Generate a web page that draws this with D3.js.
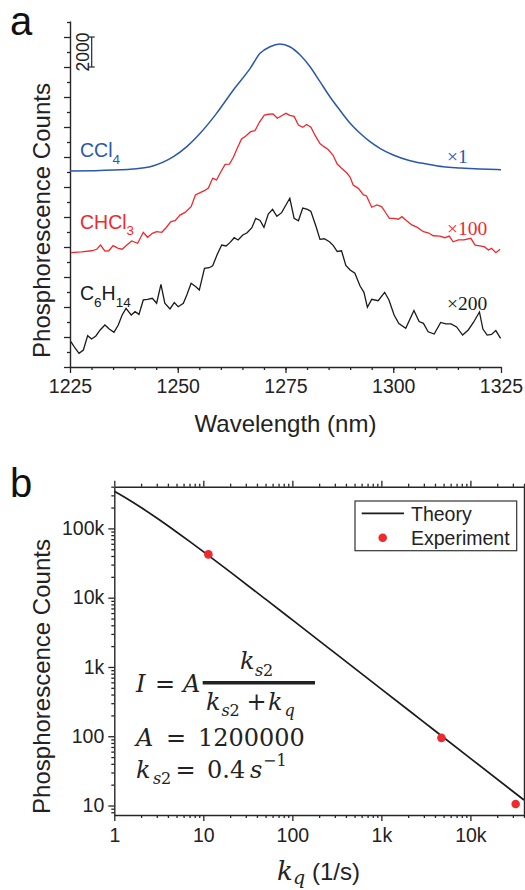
<!DOCTYPE html>
<html>
<head>
<meta charset="utf-8">
<script src="https://cdn.jsdelivr.net/npm/d3@7"></script>
<style>
  body { margin: 0; background: #fff; }
</style>
</head>
<body>
<svg id="chart" width="525" height="890"></svg>
<script>
// ---- panel a : spectra (counts already include the x1 / x100 / x200 scaling + offset)
const ccl4Wl = [1225.0, 1232.0, 1239.6, 1243.6, 1249.0, 1252.1, 1255.2, 1259.0, 1262.9, 1266.8,
  1269.1, 1271.4, 1273.7, 1276.0, 1278.4, 1280.7, 1283.0, 1285.3, 1287.6, 1290.0,
  1292.3, 1294.6, 1296.9, 1300.0, 1303.9, 1307.8, 1311.6, 1315.5, 1320.1, 1325.0]
const ccl4Counts = [13070, 13100, 13200, 13350, 14020, 14690, 15580, 16910, 18470, 19910,
  20910, 21350, 21530, 21350, 20800, 20020, 19020, 18020, 17130, 16250,
  15580, 15020, 14580, 14130, 13750, 13530, 13350, 13270, 13200, 13150]

const chcl3Wl = [1225.2, 1227.7, 1230.0, 1231.2, 1232.1, 1233.1, 1234.0, 1235.0, 1236.2, 1237.1,
  1238.2, 1239.3, 1240.7, 1242.0, 1243.0, 1244.1, 1245.1, 1246.3, 1247.2, 1248.4,
  1249.4, 1250.5, 1251.7, 1253.1, 1254.1, 1255.2, 1256.3, 1257.1, 1258.1, 1259.0,
  1260.0, 1261.0, 1262.0, 1262.9, 1263.8, 1264.8, 1265.8, 1266.9, 1267.9, 1269.0,
  1270.1, 1271.1, 1272.1, 1273.1, 1274.1, 1275.1, 1276.0, 1277.0, 1278.0, 1279.0,
  1279.9, 1280.9, 1281.8, 1283.0, 1283.9, 1284.9, 1286.0, 1287.0, 1288.0, 1289.2,
  1290.0, 1290.7, 1291.9, 1293.1, 1293.8, 1295.0, 1296.2, 1297.3, 1298.1, 1299.1,
  1300.2, 1301.2, 1302.0, 1303.1, 1304.3, 1305.6, 1307.0, 1308.1, 1309.3, 1310.8,
  1312.0, 1313.0, 1313.9, 1315.1, 1316.4, 1318.0, 1319.0, 1320.1, 1321.1, 1322.1,
  1322.8, 1323.8, 1324.8]
const chcl3Counts = [7620, 7670, 7750, 7850, 8130, 7730, 7750, 8090, 7910, 7850,
  8130, 8400, 8250, 8980, 8650, 8910, 9020, 8980, 9250, 9690,
  9750, 10130, 10310, 10690, 11470, 11620, 11770, 11930, 12580, 12470,
  13020, 13510, 13530, 13980, 14580, 15200, 15400, 15690, 15750, 16350,
  16800, 16850, 16870, 16580, 16750, 16910, 16780, 16710, 16130, 15980,
  16170, 15980, 15470, 14900, 14690, 14500, 14130, 13530, 13250, 12950,
  12650, 12130, 11910, 11470, 11400, 10650, 10800, 10690, 10350, 9910,
  9910, 9850, 10020, 9750, 9470, 9310, 9020, 8950, 8750, 8730,
  8620, 8730, 8350, 8470, 8470, 8580, 8130, 8070, 8020, 7800,
  7910, 7620, 7850]

const hexWl = [1225.2, 1226.2, 1227.1, 1228.1, 1229.1, 1230.0, 1231.0, 1232.0, 1233.1, 1234.1,
  1235.2, 1236.2, 1237.1, 1238.0, 1239.2, 1240.1, 1241.0, 1242.0, 1243.0, 1244.1,
  1245.1, 1246.1, 1247.0, 1248.2, 1249.2, 1250.1, 1251.3, 1252.1, 1253.1, 1254.2,
  1255.0, 1256.2, 1257.3, 1258.1, 1259.2, 1260.2, 1261.2, 1262.1, 1263.1, 1264.0,
  1265.1, 1266.1, 1267.2, 1268.1, 1269.1, 1270.0, 1271.0, 1272.0, 1273.0, 1274.1,
  1275.1, 1276.0, 1277.0, 1278.0, 1279.0, 1280.1, 1280.9, 1282.1, 1283.0, 1284.0,
  1285.2, 1286.1, 1287.0, 1288.0, 1289.0, 1290.0, 1291.1, 1292.3, 1293.2, 1294.0,
  1295.0, 1296.5, 1298.0, 1299.0, 1300.2, 1301.3, 1302.9, 1304.8, 1306.0, 1307.0,
  1308.1, 1309.5, 1311.0, 1312.2, 1313.4, 1314.7, 1316.1, 1317.4, 1318.6, 1320.0,
  1320.8, 1321.8, 1322.8, 1323.8, 1324.9]
const hexCounts = [1690, 1250, 910, 1130, 2090, 1870, 2070, 2470, 2800, 2530,
  2310, 2800, 3470, 3910, 3470, 3690, 3510, 4470, 4510, 4580,
  4250, 5510, 4250, 3870, 4290, 4020, 4250, 4800, 5580, 5350,
  5130, 6580, 6620, 6750, 7530, 8130, 8070, 8290, 8620, 8470,
  8800, 8950, 9290, 9910, 9770, 9310, 10200, 10510, 10050, 10290,
  10800, 11250, 9910, 9750, 10600, 10510, 10370, 9350, 8510, 8550,
  8350, 8090, 7700, 7750, 6770, 6470, 6250, 5400, 4980, 3980,
  4510, 4420, 4980, 4470, 3470, 2900, 2580, 3770, 3030, 2910,
  2350, 2200, 2970, 2870, 2870, 2670, 2130, 2470, 2970, 3670,
  2530, 2130, 2170, 2430, 1910]

const wlTicks = [1225, 1250, 1275, 1300, 1325]
const factorLabels = ['\u00d71', '\u00d7100', '\u00d7200']

// ---- panel b : quenching
const theoryKq = [1, 1.5, 2, 3, 5, 7, 10, 20, 50, 100, 300, 1000, 3000, 10000, 40000]
const theoryCounts = [342857, 252632, 200000, 141176, 88889, 64865, 46154, 23529, 9524, 4781, 1598, 480, 160, 48, 12]
const expKq = [11.4, 4730, 32240]
const expCounts = [42150, 94.8, 10.5]
const kqTicks = [1, 10, 100, 1000, 10000]
const kqTickLabels = ['1', '10', '100', '1k', '10k']
const countTicks = [10, 100, 1000, 10000, 100000]
const countTickLabels = ['10', '100', '1k', '10k', '100k']

const sans = '"Liberation Sans", Arial, Helvetica, sans-serif'
const serif = '"Liberation Serif", "Times New Roman", serif'
const mathFont = '"DejaVu Serif", Cambria, serif'
const blue = '#2b58a8', red = '#f0282d', black = '#1a1a1a', axisColor = '#262626'
const tickFont = 19.5

const svg = d3.select('#chart')

function styleAxis(g, fontSize) {
  g.attr('font-family', sans).attr('font-size', fontSize)
  g.selectAll('line').attr('stroke', axisColor).attr('stroke-width', 1.3)
  g.selectAll('path.domain').attr('stroke', axisColor).attr('stroke-width', 1.4)
  g.selectAll('text').attr('fill', '#222')
}

function logMinors(lo, hi) {
  let out = []
  for (let e = Math.floor(Math.log10(lo)); e <= Math.ceil(Math.log10(hi)); e++) {
    for (let m = 2; m <= 9; m++) {
      let v = m * Math.pow(10, e)
      if (v >= lo && v <= hi) out.push(v)
    }
  }
  return out
}

// ================= panel a =================
const xA = d3.scaleLinear().domain([1225, 1325]).range([70, 501])
const yA = d3.scaleLinear().domain([0, 23067]).range([367, 21])

svg.append('g').attr('transform', 'translate(0,367)')
  .call(d3.axisBottom(xA).tickValues(d3.range(1230, 1325, 5)).tickSize(3).tickFormat(''))
  .call(g => { g.select('.domain').remove(); styleAxis(g, tickFont) })
svg.append('g').attr('transform', 'translate(0,367)')
  .call(d3.axisBottom(xA).tickValues(wlTicks).tickSize(6).tickSizeOuter(0).tickPadding(6).tickFormat(d3.format('d')))
  .call(g => styleAxis(g, tickFont))

svg.append('g').attr('transform', 'translate(70,0)')
  .call(d3.axisLeft(yA).tickValues(d3.range(1000, 23001, 2000)).tickSize(3).tickFormat(''))
  .call(g => { g.select('.domain').remove(); styleAxis(g, 12) })
svg.append('g').attr('transform', 'translate(70,0)')
  .call(d3.axisLeft(yA).tickValues(d3.range(0, 23001, 2000)).tickSize(6).tickSizeOuter(0).tickFormat(''))
  .call(g => styleAxis(g, 12))

const lineA = d3.line().x(d => xA(d[0])).y(d => yA(d[1]))

svg.append('path').datum(d3.zip(ccl4Wl, ccl4Counts))
  .attr('d', lineA.curve(d3.curveMonotoneX)).attr('fill', 'none')
  .attr('stroke', blue).attr('stroke-width', 1.5)
lineA.curve(d3.curveLinear)
svg.append('path').datum(d3.zip(chcl3Wl, chcl3Counts))
  .attr('d', lineA).attr('fill', 'none').attr('stroke', red).attr('stroke-width', 1.3)
svg.append('path').datum(d3.zip(hexWl, hexCounts))
  .attr('d', lineA).attr('fill', 'none').attr('stroke', black).attr('stroke-width', 1.3)

// solvent labels
function chemLabel(x, y, parts, color) {
  let t = svg.append('text').attr('x', x).attr('y', y)
    .attr('font-family', sans).attr('font-size', 19.5).attr('fill', color)
  let shift = 0
  parts.forEach(p => {
    let dy = p.sub ? 6.5 - shift : -shift
    shift = p.sub ? 6.5 : 0
    t.append('tspan').attr('dy', dy).attr('font-size', p.sub ? 13.5 : 19.5).text(p.t)
  })
}
chemLabel(80, 157, [{ t: 'CCl' }, { t: '4', sub: true }], blue)
chemLabel(80, 228.5, [{ t: 'CHCl' }, { t: '3', sub: true }], red)
chemLabel(80, 300, [{ t: 'C' }, { t: '6', sub: true }, { t: 'H' }, { t: '14', sub: true }], black)

const factorColors = [blue, red, black]
const factorY = [163, 235, 310]
factorLabels.forEach((s, i) => {
  svg.append('text').attr('x', 447).attr('y', factorY[i])
    .attr('font-family', serif).attr('font-size', 19.5).attr('fill', factorColors[i]).text(s)
})

// scale bar (2000 counts)
const sb = svg.append('g').attr('stroke', axisColor).attr('stroke-width', 1.2)
sb.append('line').attr('x1', 91.7).attr('x2', 91.7).attr('y1', yA(20000)).attr('y2', yA(22000))
sb.append('line').attr('x1', 88.7).attr('x2', 94.7).attr('y1', yA(20000)).attr('y2', yA(20000))
sb.append('line').attr('x1', 88.7).attr('x2', 94.7).attr('y1', yA(22000)).attr('y2', yA(22000))
svg.append('text').attr('transform', `translate(88.5,${yA(21000)}) rotate(-90)`)
  .attr('text-anchor', 'middle').attr('font-family', sans).attr('font-size', 17.5).attr('fill', '#222')
  .text('2000')

svg.append('text').attr('transform', 'translate(50,220.5) rotate(-90)')
  .attr('text-anchor', 'middle').attr('font-family', sans).attr('font-size', 24).attr('fill', '#222')
  .text('Phosphorescence Counts')
svg.append('text').attr('x', 285.5).attr('y', 432)
  .attr('text-anchor', 'middle').attr('font-family', sans).attr('font-size', 24).attr('fill', '#222')
  .text('Wavelength (nm)')
svg.append('text').attr('x', 10).attr('y', 35)
  .attr('font-family', sans).attr('font-size', 40).attr('fill', '#111').text('a')

// ================= panel b =================
const xB = d3.scaleLog().domain([1, 40000]).range([114.3, 524])
const yB = d3.scaleLog().domain([7.3, 400000]).range([815, 486.7])

svg.append('g').attr('transform', 'translate(0,815)')
  .call(d3.axisBottom(xB).tickValues(logMinors(1, 40000)).tickSize(3).tickFormat(''))
  .call(g => { g.select('.domain').remove(); styleAxis(g, tickFont) })
svg.append('g').attr('transform', 'translate(0,815)')
  .call(d3.axisBottom(xB).tickValues(kqTicks).tickSize(6).tickSizeOuter(0).tickPadding(7)
    .tickFormat((d, i) => kqTickLabels[i]))
  .call(g => styleAxis(g, tickFont))
svg.append('g').attr('transform', 'translate(0,486.7)')
  .call(d3.axisTop(xB).tickValues(logMinors(1, 40000)).tickSize(3).tickFormat(''))
  .call(g => { g.select('.domain').remove(); styleAxis(g, 12) })
svg.append('g').attr('transform', 'translate(0,486.7)')
  .call(d3.axisTop(xB).tickValues(kqTicks).tickSize(6).tickSizeOuter(0).tickFormat(''))
  .call(g => styleAxis(g, 12))

svg.append('g').attr('transform', 'translate(114.3,0)')
  .call(d3.axisLeft(yB).tickValues(logMinors(7.3, 400000)).tickSize(3).tickFormat(''))
  .call(g => { g.select('.domain').remove(); styleAxis(g, tickFont) })
svg.append('g').attr('transform', 'translate(114.3,0)')
  .call(d3.axisLeft(yB).tickValues(countTicks).tickSize(6).tickSizeOuter(0).tickPadding(4)
    .tickFormat((d, i) => countTickLabels[i]))
  .call(g => styleAxis(g, tickFont))
svg.append('g').attr('transform', 'translate(524,0)')
  .call(d3.axisRight(yB).tickValues(logMinors(7.3, 400000)).tickSize(3).tickFormat(''))
  .call(g => { g.select('.domain').remove(); styleAxis(g, 12) })
svg.append('g').attr('transform', 'translate(524,0)')
  .call(d3.axisRight(yB).tickValues(countTicks).tickSize(6).tickSizeOuter(0).tickFormat(''))
  .call(g => styleAxis(g, 12))

const lineB = d3.line().x(d => xB(d[0])).y(d => yB(d[1])).curve(d3.curveMonotoneX)
svg.append('path').datum(d3.zip(theoryKq, theoryCounts))
  .attr('d', lineB).attr('fill', 'none').attr('stroke', black).attr('stroke-width', 1.7)

svg.append('g').selectAll('circle').data(d3.zip(expKq, expCounts)).join('circle')
  .attr('cx', d => xB(d[0])).attr('cy', d => yB(d[1])).attr('r', 4.3).attr('fill', '#ee2a2e')

// legend
const lg = svg.append('g')
lg.append('rect').attr('x', 355).attr('y', 501).attr('width', 161.7).attr('height', 49.7)
  .attr('fill', '#fff').attr('stroke', '#333').attr('stroke-width', 1.2)
lg.append('line').attr('x1', 361.7).attr('x2', 404).attr('y1', 513.3).attr('y2', 513.3)
  .attr('stroke', black).attr('stroke-width', 1.7)
lg.append('circle').attr('cx', 382.7).attr('cy', 537.7).attr('r', 4.3).attr('fill', '#ee2a2e')
lg.append('text').attr('x', 411).attr('y', 520.5).attr('font-family', sans).attr('font-size', 19.5)
  .attr('fill', '#222').text('Theory')
lg.append('text').attr('x', 411).attr('y', 544.5).attr('font-family', sans).attr('font-size', 19.5)
  .attr('fill', '#222').text('Experiment')

// formula
function put(x, y, s, size, italic) {
  svg.append('text').attr('x', x).attr('y', y).attr('font-family', mathFont)
    .attr('font-size', size).attr('font-style', italic ? 'italic' : 'normal').attr('fill', '#222').text(s)
}
put(136, 692, 'I', 24, true)
put(155, 692, '=', 24, false)
put(183, 692, 'A', 24, true)
svg.append('line').attr('x1', 202.7).attr('x2', 315).attr('y1', 682.7).attr('y2', 682.7)
  .attr('stroke', '#222').attr('stroke-width', 3.5)
put(240, 669, 'k', 24, true)
put(255, 676, 's', 16, true)
put(263, 676, '2', 16, false)
put(206, 710, 'k', 24, true)
put(221.5, 716, 's', 16, true)
put(229.5, 716, '2', 16, false)
put(246.5, 710, '+', 24, false)
put(268, 710, 'k', 24, true)
put(284.5, 716, 'q', 16, true)
put(136, 746, 'A', 24, true)
put(166, 746, '=', 24, false)
put(198, 746, '1200000', 24, false)
put(136, 778, 'k', 24, true)
put(153, 784, 's', 16, true)
put(161, 784, '2', 16, false)
put(175.5, 778, '=', 24, false)
put(207, 778, '0.4', 24, false)
put(250, 778, 's', 24, true)
put(263, 766, '\u22121', 16, false)

// axis titles
svg.append('text').attr('transform', 'translate(50,676.5) rotate(-90)')
  .attr('text-anchor', 'middle').attr('font-family', sans).attr('font-size', 24).attr('fill', '#222')
  .text('Phosphorescence Counts')
svg.append('text').attr('x', 277).attr('y', 880).attr('font-family', mathFont)
  .attr('font-size', 26).attr('font-style', 'italic').attr('fill', '#222').text('k')
svg.append('text').attr('x', 293).attr('y', 884).attr('font-family', mathFont)
  .attr('font-size', 19).attr('font-style', 'italic').attr('fill', '#222').text('q')
svg.append('text').attr('x', 312).attr('y', 880).attr('font-family', sans)
  .attr('font-size', 24).attr('fill', '#222').text('(1/s)')
svg.append('text').attr('x', 10).attr('y', 497)
  .attr('font-family', sans).attr('font-size', 40).attr('fill', '#111').text('b')
</script>
</body>
</html>
